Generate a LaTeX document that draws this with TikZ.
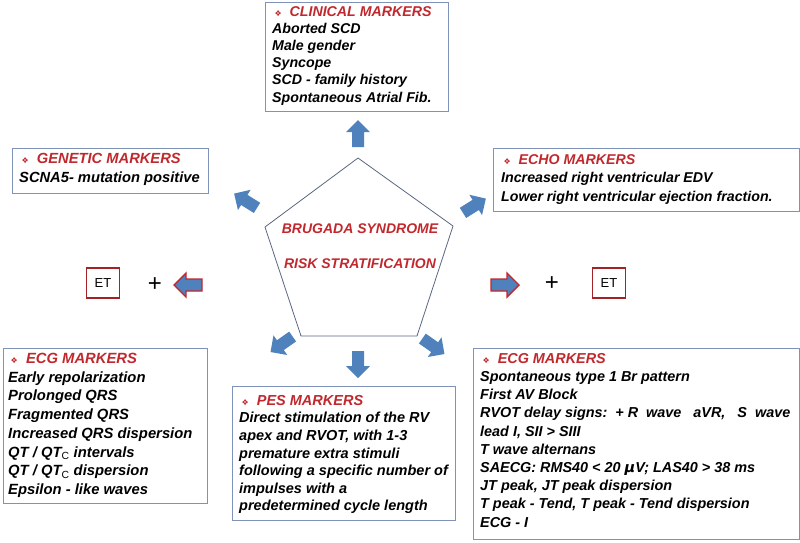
\documentclass[tikz,border=0pt]{standalone}
\usepackage{fontspec}
\setmainfont{Liberation Sans}
\newfontfamily\dvs{DejaVu Sans}
\definecolor{hred}{HTML}{C0282D}
\definecolor{ablue}{HTML}{4F81BD}
\definecolor{bframe}{HTML}{7F93B8}
\begin{document}
\begin{tikzpicture}[x=1pt,y=-1pt,
 txt/.style={anchor=north west,align=left,inner sep=0pt},
 fr/.style={draw=bframe,line width=0.8pt},
 et/.style={draw=hred!85!black,line width=1.3pt,minimum width=33pt,minimum height=30pt,inner sep=0pt,font=\fontsize{13}{13}\selectfont}]
\useasboundingbox (0,0) rectangle (800,542);
\newcommand{\fs}[2]{\fontsize{#1}{#2}\selectfont\bfseries\itshape}
\newcommand{\hd}[1]{{\color{hred}\,{\dvs\footnotesize ❖}\ \ #1}}
\newcommand{\barrow}[3]{\fill[ablue,shift={(#1,#2)},rotate=#3] (-13,-6)--(2,-6)--(2,-12)--(14,0)--(2,12)--(2,6)--(-13,6)--cycle;}
\newcommand{\rarrow}[3]{\filldraw[fill=ablue,draw=hred,line width=1.4pt,shift={(#1,#2)},rotate=#3] (-14,-6)--(2,-6)--(2,-12)--(14,0)--(2,12)--(2,6)--(-14,6)--cycle;}
% boxes
\draw[fr] (265,2) rectangle (448,111);
\node[txt,font=\fs{14.2}{17.2}] (clin) at (272,6) {\hd{CLINICAL MARKERS}\\Aborted SCD\\Male gender\\Syncope\\SCD - family history\\Spontaneous Atrial Fib.};
\draw[fr] (12,148) rectangle (208,193);
\node[txt,font=\fs{14.7}{19}] (gen) at (19,153) {\hd{GENETIC MARKERS}\\SCNA5- mutation positive};
\draw[fr] (493,148) rectangle (799,211);
\node[txt,font=\fs{14.2}{18.5}] (echo) at (501,154) {\hd{ECHO MARKERS}\\Increased right ventricular EDV\\Lower right ventricular ejection fraction.};
\draw[fr] (3,348) rectangle (207,503);
\node[txt,font=\fs{14.8}{18.7}] (ecgl) at (8,353) {\hd{ECG MARKERS}\\Early repolarization\\Prolonged QRS\\Fragmented QRS\\Increased QRS dispersion\\QT / QT$_\mathrm{C}$ intervals\\QT / QT$_\mathrm{C}$ dispersion\\Epsilon - like waves};
\draw[fr] (232,386) rectangle (455,520);
\node[txt,font=\fs{14.5}{17.6}] (pes) at (239,395) {\hd{PES MARKERS}\\Direct stimulation of the RV\\apex and RVOT, with 1-3\\premature extra stimuli\\following a specific number of\\impulses with a\\predetermined cycle length};
\draw[fr] (473,348) rectangle (799,539);
\node[txt,font=\fs{14.4}{18.2}] (ecgr) at (480,353) {\hd{ECG MARKERS}\\Spontaneous type 1 Br pattern\\First AV Block\\RVOT delay signs:\ \ + R\ \ wave\ \ \ aVR,\ \ \ S\ \ wave\\lead I, SII > SIII\\T wave alternans\\SAECG: RMS40 < 20 {\dvs μ}V; LAS40 > 38 ms\\JT peak, JT peak dispersion\\T peak - Tend, T peak - Tend dispersion\\ECG - I};
% pentagon
\coordinate (p1) at (358,158);
\coordinate (p2) at (453,226);
\coordinate (p3) at (417,336);
\coordinate (p4) at (301,336);
\coordinate (p5) at (265,227);
\draw[draw=bframe!70!black,line width=0.8pt] (p1)--(p2)--(p3)--(p4)--(p5)--cycle;
\node[txt,anchor=center,text=hred,font=\fs{14}{16}] (t1) at (360,229) {BRUGADA SYNDROME};
\node[txt,anchor=center,text=hred,font=\fs{14}{16}] (t2) at (360,264) {RISK STRATIFICATION};
% arrows
\barrow{358}{134}{90}
\barrow{358}{364}{-90}
\barrow{246}{201}{148}
\barrow{474}{206}{32}
\barrow{282}{344}{-145}
\barrow{433}{346}{-35}
\rarrow{188}{285}{180}
\rarrow{505}{285}{0}
\node[font=\fontsize{24}{24}\selectfont] (pl1) at (155,285) {+};
\node[font=\fontsize{24}{24}\selectfont] (pl2) at (552,284) {+};
\node[et] (et1) at (103,283) {ET};
\node[et] (et2) at (609,283) {ET};
\end{tikzpicture}
\end{document}
